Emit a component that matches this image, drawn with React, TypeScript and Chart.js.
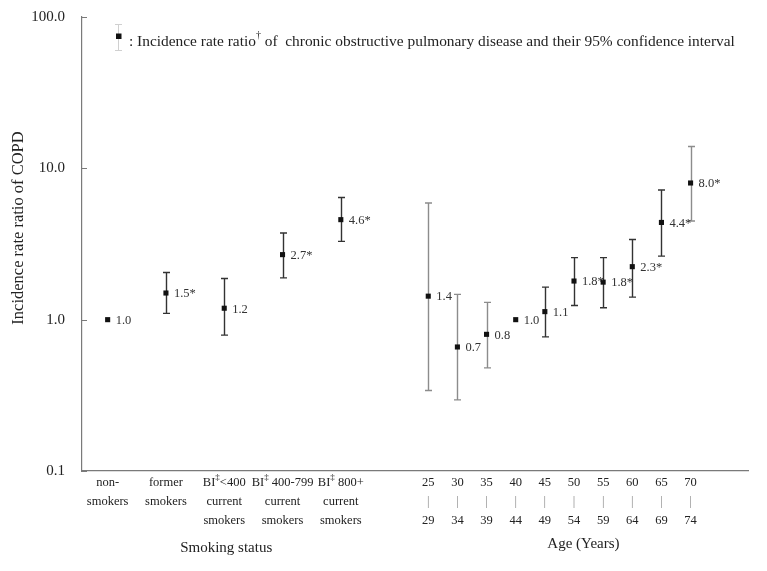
import React, { useEffect, useRef } from "react";
import { Chart, registerables } from "chart.js";

Chart.register(...registerables);

// ---------- data ----------
const categories = [
  "non-smokers",
  "former smokers",
  "BI‡<400 current smokers",
  "BI‡ 400-799 current smokers",
  "BI‡ 800+ current smokers",
  "25-29",
  "30-34",
  "35-39",
  "40-44",
  "45-49",
  "50-54",
  "55-59",
  "60-64",
  "65-69",
  "70-74",
];
const tickLines: string[][] = [
  ["non-", "smokers"],
  ["former", "smokers"],
  ["BI‡<400", "current", "smokers"],
  ["BI‡ 400-799", "current", "smokers"],
  ["BI‡ 800+", "current", "smokers"],
  ["25", "|", "29"],
  ["30", "|", "34"],
  ["35", "|", "39"],
  ["40", "|", "44"],
  ["45", "|", "49"],
  ["50", "|", "54"],
  ["55", "|", "59"],
  ["60", "|", "64"],
  ["65", "|", "69"],
  ["70", "|", "74"],
];
// slot index of each category along the x axis (gap between the two groups)
const slots = [0, 2, 4, 6, 8, 11, 12, 13, 14, 15, 16, 17, 18, 19, 20];
const irr = [1.0, 1.5, 1.19, 2.69, 4.58, 1.43, 0.66, 0.8, 1.0, 1.13, 1.8, 1.77, 2.24, 4.39, 8.0];
const ciLower: (number | null)[] = [null, 1.1, 0.79, 1.89, 3.29, 0.34, 0.295, 0.48, null, 0.77, 1.24, 1.2, 1.41, 2.63, 4.49];
const ciUpper: (number | null)[] = [null, 2.05, 1.87, 3.74, 6.42, 5.9, 1.47, 1.3, null, 1.64, 2.57, 2.57, 3.39, 7.19, 13.95];
const irrLabels = ["1.0", "1.5*", "1.2", "2.7*", "4.6*", "1.4", "0.7", "0.8", "1.0", "1.1", "1.8*", "1.8*", "2.3*", "4.4*", "8.0*"];
const yTicks = [0.1, 1, 10, 100];
const groupTitles = ["Smoking status", "Age (Years)"];
const yTitle = "Incidence rate ratio of COPD";
const legendText = ": Incidence rate ratio† of  chronic obstructive pulmonary disease and their 95% confidence interval";

// ---------- styles ----------
const FONT = '"Liberation Serif", "Times New Roman", serif';
const TEXT = "#222";
const AXIS = "#7a7a7a";
const LIGHT_BARS = new Set([5, 6, 7, 14]);

function drawRich(
  ctx: CanvasRenderingContext2D,
  text: string,
  x: number,
  y: number,
  size: number,
  align: "left" | "center" | "right",
  color: string
) {
  const segs: { t: string; sup: boolean }[] = [];
  let cur = "";
  for (const ch of text) {
    if (ch === "‡" || ch === "†") {
      if (cur) segs.push({ t: cur, sup: false });
      cur = "";
      segs.push({ t: ch, sup: true });
    } else cur += ch;
  }
  if (cur) segs.push({ t: cur, sup: false });
  const supSize = Math.round(size * 0.68);
  let total = 0;
  const widths = segs.map((s) => {
    ctx.font = `${s.sup ? supSize : size}px ${FONT}`;
    const w = ctx.measureText(s.t).width;
    total += w;
    return w;
  });
  let sx = align === "left" ? x : align === "center" ? x - total / 2 : x - total;
  ctx.save();
  ctx.fillStyle = color;
  ctx.textAlign = "left";
  ctx.textBaseline = "middle";
  segs.forEach((s, i) => {
    ctx.font = `${s.sup ? supSize : size}px ${FONT}`;
    ctx.fillText(s.t, sx, s.sup ? y - size * 0.4 : y);
    sx += widths[i];
  });
  ctx.restore();
}

const overlay = {
  id: "overlay",
  beforeDatasetsDraw(chart: any) {
    const ctx: CanvasRenderingContext2D = chart.ctx;
    const xs = chart.scales.x;
    const ys = chart.scales.y;
    ctx.save();
    ctx.lineWidth = 1.4;
    slots.forEach((s, i) => {
      const lo = ciLower[i];
      const hi = ciUpper[i];
      if (lo == null || hi == null) return;
      const px = Math.round(xs.getPixelForValue(s)) + 0.5;
      const y1 = ys.getPixelForValue(lo);
      const y2 = ys.getPixelForValue(hi);
      ctx.strokeStyle = LIGHT_BARS.has(i) ? "#8c8c8c" : "#333";
      ctx.beginPath();
      ctx.moveTo(px, y1);
      ctx.lineTo(px, y2);
      ctx.moveTo(px - 3.5, y1);
      ctx.lineTo(px + 3.5, y1);
      ctx.moveTo(px - 3.5, y2);
      ctx.lineTo(px + 3.5, y2);
      ctx.stroke();
    });
    ctx.restore();
  },
  afterDraw(chart: any) {
    const ctx: CanvasRenderingContext2D = chart.ctx;
    const xs = chart.scales.x;
    const ys = chart.scales.y;
    const area = chart.chartArea;
    ctx.save();
    // inward y ticks
    ctx.strokeStyle = AXIS;
    ctx.lineWidth = 1;
    yTicks.forEach((v) => {
      const py = Math.round(ys.getPixelForValue(v)) + 0.5;
      ctx.beginPath();
      ctx.moveTo(area.left, py);
      ctx.lineTo(area.left + 5, py);
      ctx.stroke();
    });
    // value labels
    slots.forEach((s, i) => {
      const px = xs.getPixelForValue(s);
      const py = ys.getPixelForValue(irr[i]);
      drawRich(ctx, irrLabels[i], px + 8, py + 1, 12.5, "left", "#333");
    });
    // x category labels
    const rowY = [483, 502, 521];
    slots.forEach((s, i) => {
      const px = xs.getPixelForValue(s);
      tickLines[i].forEach((line, r) => {
        drawRich(ctx, line, px, rowY[r], 12.5, "center", line === "|" ? "#888" : TEXT);
      });
    });
    // group titles
    const smokeCenter = (xs.getPixelForValue(slots[0]) + xs.getPixelForValue(slots[4])) / 2;
    const ageCenter = (xs.getPixelForValue(slots[5]) + xs.getPixelForValue(slots[14])) / 2;
    drawRich(ctx, groupTitles[0], smokeCenter + 2, 548, 15, "center", TEXT);
    drawRich(ctx, groupTitles[1], ageCenter + 24, 544, 15, "center", TEXT);
    // y title
    ctx.save();
    ctx.translate(19, 228);
    ctx.rotate(-Math.PI / 2);
    drawRich(ctx, yTitle, 0, 0, 16.5, "center", TEXT);
    ctx.restore();
    // legend
    const lx = 118;
    ctx.strokeStyle = "#d0d0d0";
    ctx.lineWidth = 1;
    ctx.beginPath();
    ctx.moveTo(lx + 0.5, 24);
    ctx.lineTo(lx + 0.5, 51);
    ctx.moveTo(lx - 3, 24.5);
    ctx.lineTo(lx + 4, 24.5);
    ctx.moveTo(lx - 3, 50.5);
    ctx.lineTo(lx + 4, 50.5);
    ctx.stroke();
    ctx.fillStyle = "#111";
    ctx.fillRect(lx - 2, 33.5, 5.5, 5.5);
    drawRich(ctx, legendText, 129, 42, 15.4, "left", TEXT);
    ctx.restore();
  },
};

export default function App() {
  const ref = useRef<HTMLCanvasElement>(null);
  useEffect(() => {
    const chart = new Chart(ref.current!, {
      type: "scatter",
      data: {
        labels: categories,
        datasets: [
          {
            label: "IRR",
            data: slots.map((s, i) => ({ x: s, y: irr[i] })),
            pointStyle: "rect",
            pointRadius: 3.6,
            pointHoverRadius: 3.6,
            backgroundColor: "#111",
            borderColor: "#111",
            borderWidth: 0,
            showLine: false,
          },
        ],
      },
      options: {
        responsive: false,
        animation: false,
        events: [],
        layout: { padding: { left: 0, top: 17, right: 19, bottom: 0 } },
        plugins: { legend: { display: false }, tooltip: { enabled: false } },
        scales: {
          x: {
            type: "linear",
            min: -0.88,
            max: 21.97,
            grid: { display: false, drawTicks: false },
            ticks: { display: false },
            border: { display: true, color: AXIS, width: 1.2 },
            afterFit: (s: any) => {
              s.height = 100;
              s.paddingLeft = 0;
              s.paddingRight = 0;
            },
          },
          y: {
            type: "logarithmic",
            min: 0.1,
            max: 100,
            grid: { display: false, drawTicks: false },
            border: { display: true, color: AXIS, width: 1.2 },
            afterBuildTicks: (s: any) => {
              s.ticks = yTicks.map((v) => ({ value: v }));
            },
            ticks: {
              padding: 17,
              color: TEXT,
              font: { family: FONT, size: 15 },
              callback: (v: any) => Number(v).toFixed(1),
            },
            afterFit: (s: any) => {
              s.width = 82;
              s.paddingTop = 0;
              s.paddingBottom = 0;
            },
          },
        },
      },
      plugins: [overlay],
    });
    return () => chart.destroy();
  }, []);
  return (
    <div style={{ position: "fixed", left: 0, top: 0, width: 767, height: 571, background: "#fff" }}>
      <canvas ref={ref} width={767} height={571} style={{ display: "block", width: 767, height: 571 }} />
    </div>
  );
}
